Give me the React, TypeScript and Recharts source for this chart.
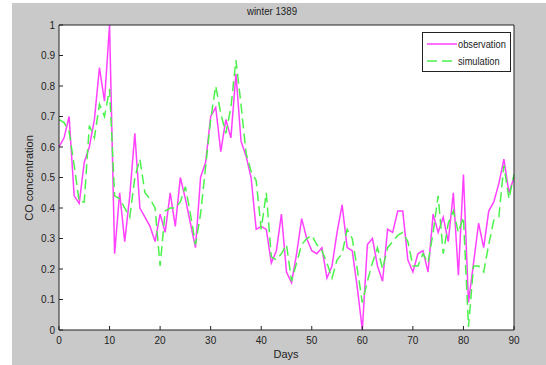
import { LineChart, Line, XAxis, YAxis, CartesianGrid, Legend } from 'recharts';

const observation = [
  0.60, 0.63, 0.70, 0.44, 0.415, 0.55, 0.60, 0.69, 0.86, 0.75,
  1.00, 0.25, 0.45, 0.29, 0.44, 0.645, 0.40, 0.37, 0.34, 0.29,
  0.38, 0.32, 0.45, 0.34, 0.50, 0.43, 0.35, 0.27, 0.50, 0.55,
  0.70, 0.73, 0.585, 0.69, 0.63, 0.84, 0.62, 0.57, 0.50, 0.33,
  0.34, 0.33, 0.22, 0.26, 0.38, 0.19, 0.155, 0.25, 0.365, 0.30,
  0.26, 0.25, 0.27, 0.17, 0.21, 0.32, 0.41, 0.27, 0.26, 0.14,
  0.00, 0.28, 0.30, 0.21, 0.16, 0.33, 0.32, 0.39, 0.39, 0.23,
  0.19, 0.25, 0.26, 0.19, 0.38, 0.32, 0.37, 0.29, 0.45, 0.18,
  0.51, 0.09, 0.22, 0.35, 0.27, 0.39, 0.42, 0.48, 0.56, 0.45,
  0.50,
];

const simulation = [
  0.69, 0.68, 0.65, 0.54, 0.42, 0.42, 0.67, 0.63, 0.74, 0.70,
  0.79, 0.44, 0.43, 0.40, 0.37, 0.50, 0.56, 0.45, 0.43, 0.40,
  0.21, 0.39, 0.40, 0.40, 0.42, 0.47, 0.38, 0.28, 0.38, 0.535,
  0.69, 0.80, 0.71, 0.645, 0.73, 0.885, 0.74, 0.58, 0.52, 0.49,
  0.33, 0.45, 0.24, 0.23, 0.25, 0.28, 0.16, 0.22, 0.28, 0.30,
  0.31, 0.28, 0.26, 0.22, 0.17, 0.23, 0.25, 0.33, 0.30, 0.20,
  0.09, 0.16, 0.22, 0.27, 0.20, 0.27, 0.29, 0.31, 0.32, 0.29,
  0.21, 0.21, 0.25, 0.22, 0.32, 0.44, 0.25, 0.35, 0.39, 0.32,
  0.37, 0.01, 0.21, 0.21, 0.19, 0.28, 0.36, 0.37, 0.54, 0.43,
  0.51,
];

const xTicks = [0, 10, 20, 30, 40, 50, 60, 70, 80, 90];
const yTicks = [0, 0.1, 0.2, 0.3, 0.4, 0.5, 0.6, 0.7, 0.8, 0.9, 1];

// day index doubles as the x value
const data = observation.map((v, i) => ({ day: i, observation: v, simulation: simulation[i] }));

const font = "'Liberation Sans', Arial, sans-serif";
const ink = '#222';
const tickStyle = { fontSize: 10, fill: ink, fontFamily: font };
const axisProps = { axisLine: { stroke: ink }, tickLine: { stroke: ink }, tickSize: -4 };

function MatlabLegend({ payload }: any) {
  return (
    <div style={{ background: '#fff', border: '1px solid ' + ink, width: 89, height: 40, boxSizing: 'border-box', padding: '2px 0 0 4px' }}>
      {(payload || []).map((entry: any) => (
        <div key={entry.value} style={{ display: 'flex', alignItems: 'center', height: 17 }}>
          <svg width={30} height={4} style={{ flex: 'none' }}>
            <line x1={0} y1={2} x2={30} y2={2} stroke={entry.color} strokeWidth={1.5}
              strokeDasharray={entry.payload?.strokeDasharray} />
          </svg>
          <span style={{ fontFamily: font, fontSize: 11, color: ink, marginLeft: 1, display: 'inline-block',
            transform: 'scaleX(0.84)', transformOrigin: 'left center', whiteSpace: 'nowrap' }}>{entry.value}</span>
        </div>
      ))}
    </div>
  );
}

export default function App() {
  return (
    <div style={{ position: 'absolute', left: 0, top: 0, width: 546, height: 365, background: '#fff' }}>
      <div style={{ position: 'absolute', left: 12, top: 3, right: 0, bottom: 0, background: '#c9c9c9' }} />
      <div style={{ position: 'absolute', left: 272, top: 5, transform: 'translateX(-50%) scaleX(0.88)', fontFamily: font, fontSize: 11, color: ink, whiteSpace: 'nowrap' }}>winter 1389</div>
      <div style={{ position: 'absolute', left: 286, top: 348, transform: 'translateX(-50%)', fontFamily: font, fontSize: 11, color: ink }}>Days</div>
      <div style={{ position: 'absolute', left: 29, top: 178, transform: 'translate(-50%, -50%) rotate(-90deg)', fontFamily: font, fontSize: 11, color: ink, whiteSpace: 'nowrap' }}>CO concentration</div>
      <div style={{ position: 'absolute', left: 0, top: 0 }}>
        <LineChart width={546} height={365} data={data} margin={{ top: 24, right: 31, bottom: 34, left: 58 }}>
          <CartesianGrid horizontal={false} vertical={false} fill="#fff" />
          <XAxis dataKey="day" type="number" domain={[0, 90]} ticks={xTicks} height={1}
            {...axisProps} tickMargin={11} tick={tickStyle} interval={0} />
          <XAxis xAxisId="top" orientation="top" dataKey="day" type="number" domain={[0, 90]} ticks={xTicks} height={1}
            {...axisProps} tick={false} />
          <YAxis type="number" domain={[0, 1]} ticks={yTicks} width={1}
            {...axisProps} tickMargin={8} tick={tickStyle} interval={0} />
          <YAxis yAxisId="right" orientation="right" type="number" domain={[0, 1]} ticks={yTicks} width={1}
            {...axisProps} tick={false} />
          <Legend layout="vertical" align="center" verticalAlign="middle"
            wrapperStyle={{ left: 422, top: 32, width: 89 }} content={<MatlabLegend />} />
          <Line dataKey="observation" name="observation" stroke="#ff40ff" strokeWidth={1.5} dot={false}
            isAnimationActive={false} />
          <Line dataKey="simulation" name="simulation" stroke="#4cf24c" strokeWidth={1.5} strokeDasharray="10 5"
            dot={false} isAnimationActive={false} />
        </LineChart>
      </div>
    </div>
  );
}
